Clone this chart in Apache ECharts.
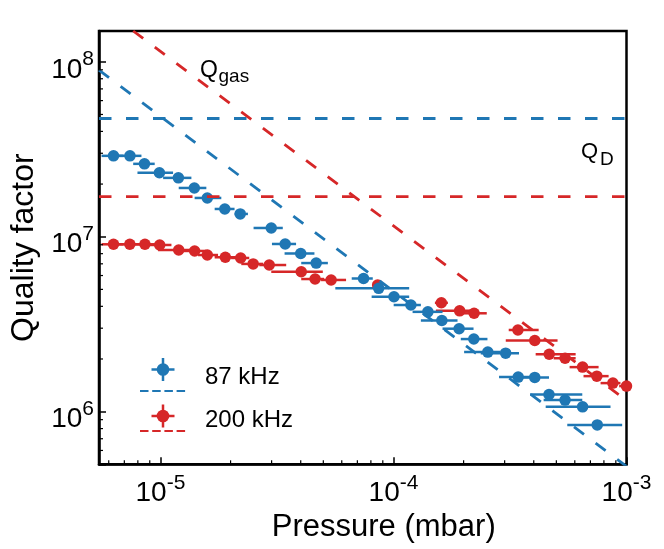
<!DOCTYPE html>
<html><head><meta charset="utf-8">
<script src="https://cdn.jsdelivr.net/npm/echarts@6/dist/echarts.min.js"></script>
<style>html,body{margin:0;padding:0;background:#fff}#c{width:664px;height:549px}</style>
</head><body><div id="c"></div>
<script>
// Axis ranges
const xMin = 5.45e-6, xMax = 1e-3, yMin = 5.0e5, yMax = 1.5e8;

// 87 kHz data: pressure, quality factor, horizontal error extents
const blueP = [6.29e-6, 7.40e-6, 8.54e-6, 9.90e-6, 1.194e-5, 1.398e-5, 1.589e-5, 1.889e-5, 2.20e-5, 2.99e-5, 3.43e-5, 4.00e-5, 4.66e-5, 7.44e-5, 8.64e-5, 1.005e-4, 1.188e-4, 1.405e-4, 1.613e-4, 1.913e-4, 2.212e-4, 2.54e-4, 3.03e-4, 3.43e-4, 4.04e-4, 4.65e-4, 5.45e-4, 6.48e-4, 7.49e-4];
const blueQ = [2.90e7, 2.90e7, 2.61e7, 2.32e7, 2.17e7, 1.90e7, 1.666e7, 1.441e7, 1.350e7, 1.122e7, 9.09e6, 8.02e6, 7.07e6, 5.77e6, 5.07e6, 4.54e6, 4.07e6, 3.72e6, 3.32e6, 2.98e6, 2.60e6, 2.19e6, 2.16e6, 1.576e6, 1.570e6, 1.254e6, 1.164e6, 1.065e6, 8.40e5];
const blueLo = [5.59e-6, 6.54e-6, 7.64e-6, 7.97e-6, 1.027e-5, 1.198e-5, 1.402e-5, 1.709e-5, 2.08e-5, 2.51e-5, 3.01e-5, 3.41e-5, 4.02e-5, 6.62e-5, 5.63e-5, 8.06e-5, 1.002e-4, 1.208e-4, 1.311e-4, 1.624e-4, 1.945e-4, 2.01e-4, 2.369e-4, 2.838e-4, 3.346e-4, 3.855e-4, 4.41e-4, 4.50e-4, 5.57e-4];
const blueHi = [6.94e-6, 8.29e-6, 9.45e-6, 1.133e-5, 1.358e-5, 1.574e-5, 1.825e-5, 2.08e-5, 2.374e-5, 3.35e-5, 3.82e-5, 4.58e-5, 5.23e-5, 8.15e-5, 1.168e-4, 1.168e-4, 1.311e-4, 1.624e-4, 1.883e-4, 2.206e-4, 2.531e-4, 2.886e-4, 3.457e-4, 4.076e-4, 4.65e-4, 6.46e-4, 6.46e-4, 8.54e-4, 9.58e-4];

// 200 kHz data
const redP = [6.29e-6, 7.39e-6, 8.58e-6, 9.93e-6, 1.198e-5, 1.402e-5, 1.589e-5, 1.899e-5, 2.21e-5, 2.50e-5, 2.93e-5, 4.02e-5, 4.61e-5, 5.40e-5, 8.55e-5, 1.605e-4, 1.923e-4, 2.218e-4, 3.42e-4, 4.04e-4, 4.66e-4, 5.45e-4, 6.48e-4, 7.46e-4, 8.74e-4, 1.0e-3];
const redQ = [9.05e6, 9.05e6, 9.05e6, 8.97e6, 8.40e6, 8.29e6, 7.86e6, 7.63e6, 7.56e6, 6.99e6, 6.89e6, 6.31e6, 5.73e6, 5.66e6, 5.30e6, 4.19e6, 3.77e6, 3.65e6, 2.93e6, 2.55e6, 2.13e6, 2.02e6, 1.797e6, 1.596e6, 1.456e6, 1.40e6];
const redLo = [5.59e-6, 6.54e-6, 7.66e-6, 8.97e-6, 9.77e-6, 1.230e-5, 1.450e-5, 1.709e-5, 2.01e-5, 2.223e-5, 2.655e-5, 2.99e-5, 4.02e-5, 4.89e-5, 8.2e-5, 1.506e-4, 1.521e-4, 1.945e-4, 3.123e-4, 3.033e-4, 4.076e-4, 4.87e-4, 5.70e-4, 6.54e-4, 7.74e-4, 9.3e-4];
const redHi = [6.94e-6, 8.29e-6, 9.61e-6, 1.115e-5, 1.358e-5, 1.574e-5, 1.767e-5, 2.152e-5, 2.405e-5, 2.76e-5, 3.465e-5, 4.975e-5, 5.04e-5, 6.26e-5, 8.9e-5, 1.712e-4, 2.256e-4, 2.514e-4, 4.198e-4, 5.06e-4, 6.05e-4, 6.05e-4, 7.59e-4, 8.38e-4, 9.42e-4, 1.0e-3];

// Model lines (endpoints)
const blueGas = [[5.45e-6, 8.95e7], [1e-3, 4.87e5]];
const redGas = [[7.64e-6, 1.5e8], [1e-3, 1.16e6]];
const blueQD = 4.74e7;
const redQD = 1.695e7;

// Tick labels
const xTickLabels = [1e-5, 1e-4, 1e-3];
const yTickLabels = [1e6, 1e7, 1e8];
const minorMultipliers = [2, 3, 4, 5, 6, 7, 8, 9];

const BLUE = '#1f77b4', RED = '#d62728';
const FONT = '"Liberation Sans", Arial, Helvetica, sans-serif';

function minorTicks(lo, hi) {
  const out = [];
  for (let e = Math.floor(Math.log10(lo)); e <= Math.ceil(Math.log10(hi)); e++) {
    for (const m of minorMultipliers) {
      const v = m * Math.pow(10, e);
      if (v > lo && v < hi) out.push(v);
    }
  }
  return out;
}
const minorX = minorTicks(xMin, xMax);
const minorY = minorTicks(yMin, yMax);

function powLabel(list) {
  return function (v) {
    for (const t of list) {
      if (Math.abs(Math.log10(v) - Math.log10(t)) < 1e-6) {
        return '{b|10}{s|' + Math.round(Math.log10(t)) + '}';
      }
    }
    return '';
  };
}
const richLbl = {
  b: { fontSize: 28, lineHeight: 35, verticalAlign: 'bottom', fontFamily: FONT, color: '#000' },
  s: { fontSize: 21, lineHeight: 21, verticalAlign: 'top', fontFamily: FONT, color: '#000' }
};

function errBarSeries(lo, hi, q, color) {
  return {
    type: 'custom', silent: true, z: 3,
    encode: { x: [0, 1], y: 2 },
    data: q.map((v, i) => [lo[i], hi[i], v]),
    renderItem: function (params, api) {
      const a = api.coord([api.value(0), api.value(2)]);
      const b = api.coord([api.value(1), api.value(2)]);
      return { type: 'line', shape: { x1: a[0], y1: a[1], x2: b[0], y2: b[1] },
        style: { stroke: color, lineWidth: 2.5 } };
    }
  };
}
function scatterSeries(p, q, color) {
  return { type: 'scatter', silent: true, z: 4, symbol: 'circle', symbolSize: 11.5,
    itemStyle: { color: color, opacity: 1 }, data: p.map((v, i) => [v, q[i]]) };
}
function dashSeries(data, color) {
  return { type: 'line', silent: true, z: 5, symbol: 'none', clip: true,
    lineStyle: { color: color, width: 2.8, type: [12.5, 14.5] }, data: data };
}

const chart = echarts.init(document.getElementById('c'), null, { renderer: 'canvas' });
chart.setOption({
  animation: false,
  backgroundColor: '#fff',
  grid: { left: 97.5, top: 31, right: 37.5, bottom: 84.7, show: true, borderColor: '#000', borderWidth: 2.5, containLabel: false },
  xAxis: {
    type: 'log', logBase: 10, min: xMin, max: xMax,
    axisLine: { show: true, onZero: false, lineStyle: { color: '#000', width: 2.5 } },
    axisTick: { show: true, inside: true, length: 7, lineStyle: { color: '#000', width: 1.5 } },
    minorTick: { show: false }, splitLine: { show: false }, minorSplitLine: { show: false },
    axisLabel: { margin: 8, formatter: powLabel(xTickLabels), rich: richLbl, showMinLabel: true, showMaxLabel: true, hideOverlap: false },
    name: 'Pressure (mbar)', nameLocation: 'middle', nameGap: 42,
    nameTextStyle: { fontSize: 31, color: '#000', fontFamily: FONT, padding: [0, 0, 0, 42] }
  },
  yAxis: {
    type: 'log', logBase: 10, min: yMin, max: yMax,
    axisLine: { show: true, onZero: false, lineStyle: { color: '#000', width: 2.5 } },
    axisTick: { show: true, inside: true, length: 7, lineStyle: { color: '#000', width: 1.5 } },
    minorTick: { show: false }, splitLine: { show: false }, minorSplitLine: { show: false },
    axisLabel: { margin: 5, formatter: powLabel(yTickLabels), rich: richLbl, padding: [9, 0, 0, 0], hideOverlap: false },
    name: 'Quality factor', nameLocation: 'middle', nameGap: 59,
    nameTextStyle: { fontSize: 32, color: '#000', fontFamily: FONT }
  },
  series: [
    errBarSeries(redLo, redHi, redQ, RED),
    scatterSeries(redP, redQ, RED),
    errBarSeries(blueLo, blueHi, blueQ, BLUE),
    scatterSeries(blueP, blueQ, BLUE),
    dashSeries([[xMin, blueQD], [xMax, blueQD]], BLUE),
    dashSeries([[xMin, redQD], [xMax, redQD]], RED),
    dashSeries(blueGas, BLUE),
    dashSeries(redGas, RED),
    {
      type: 'custom', silent: true, z: 10, clip: false,
      encode: { x: 0, y: 1 },
      data: minorX.map(v => [v, yMin]),
      renderItem: function (params, api) {
        const p = api.coord([api.value(0), api.value(1)]);
        return { type: 'line', shape: { x1: p[0], y1: p[1], x2: p[0], y2: p[1] - 4 },
          style: { stroke: '#000', lineWidth: 1.2 } };
      }
    },
    {
      type: 'custom', silent: true, z: 10, clip: false,
      encode: { x: 0, y: 1 },
      data: minorY.map(v => [xMin, v]),
      renderItem: function (params, api) {
        const p = api.coord([api.value(0), api.value(1)]);
        return { type: 'line', shape: { x1: p[0], y1: p[1], x2: p[0] + 4, y2: p[1] },
          style: { stroke: '#000', lineWidth: 1.2 } };
      }
    }
  ],
  graphic: [
    { type: 'text', left: 200, top: 59, style: { text: 'Q', fontSize: 23, fontFamily: FONT, fill: '#000' } },
    { type: 'text', left: 218.5, top: 67, style: { text: 'gas', fontSize: 19, fontFamily: FONT, fill: '#000' } },
    { type: 'text', left: 581, top: 141, style: { text: 'Q', fontSize: 22, fontFamily: FONT, fill: '#000' } },
    { type: 'text', left: 600, top: 150.5, style: { text: 'D', fontSize: 19, fontFamily: FONT, fill: '#000' } },
    // legend: 87 kHz
    { type: 'line', shape: { x1: 151.5, y1: 369.5, x2: 174.5, y2: 369.5 }, style: { stroke: BLUE, lineWidth: 2.5 } },
    { type: 'line', shape: { x1: 163, y1: 358, x2: 163, y2: 381 }, style: { stroke: BLUE, lineWidth: 2.5 } },
    { type: 'circle', shape: { cx: 163, cy: 369.5, r: 6.3 }, style: { fill: BLUE } },
    { type: 'line', shape: { x1: 140, y1: 391, x2: 186, y2: 391 }, style: { stroke: BLUE, lineWidth: 1.8, lineDash: [8.5, 3.7] } },
    { type: 'text', left: 205, top: 365.5, style: { text: '87 kHz', fontSize: 24, fontFamily: FONT, fill: '#000' } },
    // legend: 200 kHz
    { type: 'line', shape: { x1: 151.5, y1: 416, x2: 174.5, y2: 416 }, style: { stroke: RED, lineWidth: 2.5 } },
    { type: 'line', shape: { x1: 163, y1: 404.5, x2: 163, y2: 427.5 }, style: { stroke: RED, lineWidth: 2.5 } },
    { type: 'circle', shape: { cx: 163, cy: 416, r: 6.3 }, style: { fill: RED } },
    { type: 'line', shape: { x1: 140, y1: 431, x2: 186, y2: 431 }, style: { stroke: RED, lineWidth: 1.8, lineDash: [8.5, 3.7] } },
    { type: 'text', left: 205, top: 408, style: { text: '200 kHz', fontSize: 24, fontFamily: FONT, fill: '#000' } }
  ]
});
</script>
</body></html>
